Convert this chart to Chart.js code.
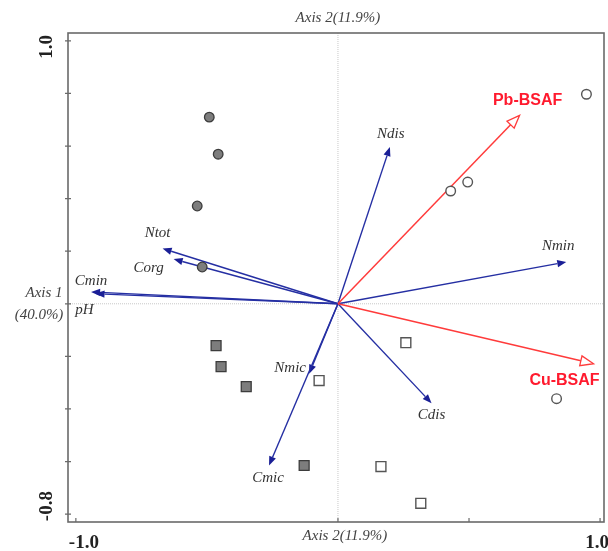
<!DOCTYPE html>
<html>
<head>
<meta charset="utf-8">
<script src="https://cdn.jsdelivr.net/npm/chart.js@4/dist/chart.umd.min.js"></script>
<style>
  html, body { margin: 0; padding: 0; background: #fff; }
  #wrap { width: 608px; height: 551px; }
</style>
</head>
<body>
<div id="wrap"><canvas id="biplot"></canvas></div>
<script>
// sample scores
const filledCirclesX = [-0.491, -0.457, -0.537, -0.518];
const filledCirclesY = [0.710, 0.569, 0.372, 0.140];
const openCirclesX = [0.948, 0.430, 0.495, 0.834];
const openCirclesY = [0.797, 0.429, 0.463, -0.361];
const filledSquaresX = [-0.465, -0.446, -0.350, -0.129];
const filledSquaresY = [-0.159, -0.239, -0.315, -0.615];
const openSquaresX = [0.259, -0.072, 0.164, 0.316];
const openSquaresY = [-0.148, -0.292, -0.619, -0.759];

// variable loadings (blue arrows)
const varNames = ['Ndis', 'Nmin', 'Ntot', 'Corg', 'Cmin', 'pH', 'Nmic', 'Cmic', 'Cdis'];
const varX = [0.198, 0.871, -0.669, -0.627, -0.942, -0.925, -0.110, -0.263, 0.357];
const varY = [0.596, 0.159, 0.210, 0.170, 0.045, 0.038, -0.266, -0.615, -0.378];

// response arrows (red)
const bsafNames = ['Pb-BSAF', 'Cu-BSAF'];
const bsafX = [0.693, 0.975];
const bsafY = [0.717, -0.228];

const yTicks = [1.0, 0.8, 0.6, 0.4, 0.2, 0, -0.2, -0.4, -0.6, -0.8];
const xTicks = [-1.0, 0, 0.5, 1.0];
const axisTitle = 'Axis 2(11.9%)';

// label offsets in px from arrow tip
const varLabelOff = [[1, -13], [-8, -16], [-5, -16], [-25, 9], [0, -11], [-11, 16], [-19, -6], [-1, 13], [0, 12]];
const bsafLabelOff = [[8, -15], [-29, 17]];

const toPts = (xs, ys) => xs.map((x, i) => ({ x, y: ys[i] }));

function arrowHead(ctx, x0, y0, x1, y1, len, half, fill, stroke) {
    const a = Math.atan2(y1 - y0, x1 - x0);
    const bx = x1 - len * Math.cos(a), by = y1 - len * Math.sin(a);
    ctx.beginPath();
    ctx.moveTo(x1, y1);
    ctx.lineTo(bx + half * Math.sin(a), by - half * Math.cos(a));
    ctx.lineTo(bx - half * Math.sin(a), by + half * Math.cos(a));
    ctx.closePath();
    ctx.fillStyle = fill;
    ctx.fill();
    if (stroke) { ctx.strokeStyle = stroke; ctx.lineWidth = 1.3; ctx.stroke(); }
    return [bx, by];
}

const biplotPlugin = {
    id: 'biplot',
    beforeDatasetsDraw(chart) {
        const { ctx, chartArea: ca, scales: { x, y } } = chart;
        const ox = x.getPixelForValue(0), oy = y.getPixelForValue(0);
        ctx.save();
        // center lines
        ctx.strokeStyle = '#c8c8c8';
        ctx.lineWidth = 1;
        ctx.setLineDash([1, 1]);
        ctx.beginPath();
        ctx.moveTo(ox, ca.top); ctx.lineTo(ox, ca.bottom);
        ctx.moveTo(ca.left, oy); ctx.lineTo(ca.right, oy);
        ctx.stroke();
        ctx.setLineDash([]);

        // frame
        ctx.strokeStyle = '#6a6a6a';
        ctx.lineWidth = 1.6;
        ctx.strokeRect(ca.left, ca.top, ca.right - ca.left, ca.bottom - ca.top);
        ctx.lineWidth = 1.2;
        ctx.beginPath();
        yTicks.forEach(v => {
            const py = y.getPixelForValue(v);
            ctx.moveTo(ca.left - 3, py); ctx.lineTo(ca.left + 3, py);
        });
        xTicks.forEach(v => {
            const px = x.getPixelForValue(v);
            ctx.moveTo(px, ca.bottom); ctx.lineTo(px, ca.bottom - 4);
        });
        ctx.stroke();

        // blue arrows
        varNames.forEach((n, i) => {
            const tx = x.getPixelForValue(varX[i]), ty = y.getPixelForValue(varY[i]);
            const [bx, by] = arrowHead(ctx, ox, oy, tx, ty, 9, 3.6, '#1a1f96');
            ctx.strokeStyle = '#252fa3';
            ctx.lineWidth = 1.4;
            ctx.beginPath();
            ctx.moveTo(ox, oy); ctx.lineTo(bx, by);
            ctx.stroke();
        });

        // red arrows
        bsafNames.forEach((n, i) => {
            const tx = x.getPixelForValue(bsafX[i]), ty = y.getPixelForValue(bsafY[i]);
            const a = Math.atan2(ty - oy, tx - ox);
            ctx.strokeStyle = '#ff3b3b';
            ctx.lineWidth = 1.5;
            ctx.beginPath();
            ctx.moveTo(ox, oy); ctx.lineTo(tx - 13 * Math.cos(a), ty - 13 * Math.sin(a));
            ctx.stroke();
            arrowHead(ctx, ox, oy, tx, ty, 13, 5, '#fff', '#ff3b3b');
        });
        ctx.restore();
    },
    afterDatasetsDraw(chart) {
        const { ctx, chartArea: ca, scales: { x, y } } = chart;
        ctx.save();
        ctx.textAlign = 'center';
        ctx.textBaseline = 'middle';
        ctx.fillStyle = '#333';
        ctx.font = 'italic 15px "Liberation Serif"';
        varNames.forEach((n, i) => {
            const tx = x.getPixelForValue(varX[i]), ty = y.getPixelForValue(varY[i]);
            ctx.fillText(n, tx + varLabelOff[i][0], ty + varLabelOff[i][1]);
        });
        ctx.fillStyle = '#ff1a2e';
        ctx.font = 'bold 16px "Liberation Sans"';
        bsafNames.forEach((n, i) => {
            const tx = x.getPixelForValue(bsafX[i]), ty = y.getPixelForValue(bsafY[i]);
            ctx.fillText(n, tx + bsafLabelOff[i][0], ty + bsafLabelOff[i][1]);
        });

        // axis titles
        ctx.fillStyle = '#444';
        ctx.font = 'italic 15px "Liberation Serif"';
        const ox = x.getPixelForValue(0);
        ctx.fillText(axisTitle, ox, 18);
        ctx.fillText(axisTitle, ox + 7, ca.bottom + 14);
        ctx.fillText('Axis 1', 44, 293);
        ctx.fillText('(40.0%)', 39, 315);

        // end tick labels
        ctx.fillStyle = '#222';
        ctx.font = 'bold 19px "Liberation Serif"';
        ctx.fillText('-1.0', x.getPixelForValue(-1.0) + 8, ca.bottom + 21);
        ctx.fillText('1.0', x.getPixelForValue(1.0) - 3, ca.bottom + 21);
        [[1.0, 6], [-0.8, -8]].forEach(([v, d]) => {
            ctx.save();
            ctx.translate(47, y.getPixelForValue(v) + d);
            ctx.rotate(-Math.PI / 2);
            ctx.fillText(v.toFixed(1), 0, 0);
            ctx.restore();
        });
        ctx.restore();
    }
};

new Chart(document.getElementById('biplot'), {
    type: 'scatter',
    data: {
        datasets: [
            { data: toPts(filledCirclesX, filledCirclesY), pointStyle: 'circle', pointRadius: 4.8,
              backgroundColor: '#7d7d7d', borderColor: '#3c3c3c', borderWidth: 1.3 },
            { data: toPts(openCirclesX, openCirclesY), pointStyle: 'circle', pointRadius: 4.8,
              backgroundColor: '#fff', borderColor: '#555', borderWidth: 1.4 },
            { data: toPts(filledSquaresX, filledSquaresY), pointStyle: 'rect', pointRadius: 7,
              backgroundColor: '#7d7d7d', borderColor: '#3c3c3c', borderWidth: 1.3 },
            { data: toPts(openSquaresX, openSquaresY), pointStyle: 'rect', pointRadius: 7,
              backgroundColor: '#fff', borderColor: '#555', borderWidth: 1.4 }
        ]
    },
    options: {
        responsive: true,
        maintainAspectRatio: false,
        animation: false,
        layout: { autoPadding: false, padding: { left: 68, top: 33, right: 4, bottom: 29 } },
        plugins: { legend: { display: false }, tooltip: { enabled: false } },
        scales: {
            x: { type: 'linear', min: -1.03, max: 1.015, display: false },
            y: { type: 'linear', min: -0.83, max: 1.03, display: false }
        }
    },
    plugins: [biplotPlugin]
});
</script>
</body>
</html>
